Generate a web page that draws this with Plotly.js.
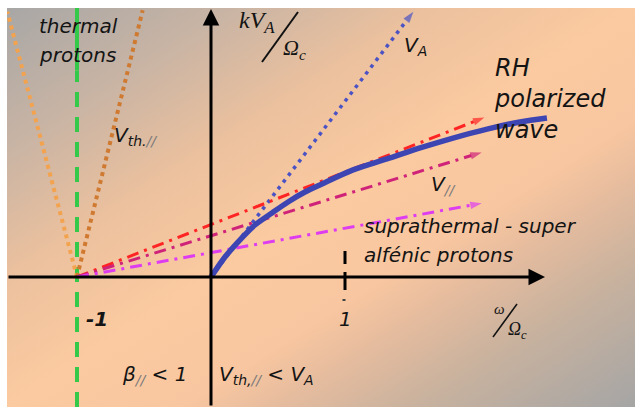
<!DOCTYPE html>
<html>
<head>
<meta charset="utf-8">
<script src="https://cdn.plot.ly/plotly-3.0.1.min.js"></script>
<style>
  html, body { margin:0; padding:0; background:#ffffff; }
  #wrap { position:relative; width:635px; height:407px; overflow:hidden; }
  #bg { position:absolute; left:7px; top:8px; width:628px; height:399px;
        background: linear-gradient(to bottom right, #a8a7a6 0%, #c9b4a4 18%, #ecc19e 34%, #fbcaa0 50%, #f8c6a0 64%, #e4bb9e 72%, #c9b29e 82%, #a5a5a5 100%); }
  #chart { position:absolute; left:0; top:0; width:635px; height:407px; }
</style>
</head>
<body>
<div id="wrap"><div id="bg"></div><div id="chart"></div></div>
<script>
// ---- data (in units of omega/Omega_c and kV_A/Omega_c) ----
const cyclotronX = [-1, -1];
const cyclotronY = [-0.97, 1.54];
const cyclotronTopY = [1.54, 2.01];
const thermalLeftX = [-1, -1.52];
const thermalLeftY = [0, 1.98];
const thermalRightX = [-1, -0.51];
const thermalRightY = [0, 1.99];
const alfvenX = [0, 1.51];
const alfvenY = [0, 1.98];
const beamRedX = [-1, 2.04];
const beamRedY = [0, 1.19];
const beamCrimsonX = [-1, 2.02];
const beamCrimsonY = [0, 0.93];
const beamVioletX = [-1, 2.02];
const beamVioletY = [0, 0.55];
const waveX = [0, 0.104, 0.201, 0.328, 0.455, 0.575, 0.701, 0.828, 1.060, 1.313, 1.560, 1.806, 2.060, 2.306, 2.507];
const waveY = [0, 0.149, 0.261, 0.388, 0.478, 0.560, 0.634, 0.694, 0.799, 0.881, 0.963, 1.037, 1.104, 1.157, 1.187];
const xTickValue = 1;
const xTickLabel = "1";
const xMinusLabel = "-1";

// pixel helpers for layout placement (text/decoration only)
const X = px => (px - 211) / 134;
const Y = py => (277 - py) / 134;

const dashDot = "12px,6px,3px,6px";
function arrowLine(x, y, color, dash, width, headSize) {
  return {x:x, y:y, mode:'lines+markers', type:'scatter', hoverinfo:'skip',
    line:{color:color, width:width, dash:dash},
    marker:{symbol:'arrow', angleref:'previous', size:[0, headSize], color:color, line:{width:0}}};
}

const traces = [
  {x:cyclotronX, y:cyclotronY, mode:'lines', line:{color:'#35c94a', width:4, dash:'15px,10px'}, hoverinfo:'skip'},
  {x:[cyclotronX[0], cyclotronX[1]], y:cyclotronTopY, mode:'lines', line:{color:'#35c94a', width:4}, hoverinfo:'skip'},
  {x:thermalLeftX, y:thermalLeftY, mode:'lines', line:{color:'#f3a24e', width:4, dash:'4px,4px'}, hoverinfo:'skip'},
  {x:thermalRightX, y:thermalRightY, mode:'lines', line:{color:'#cf7a30', width:4, dash:'4px,4px'}, hoverinfo:'skip'},
  arrowLine(alfvenX, alfvenY, '#4a52c4', '3.5px,5px', 3.5, 12),
  arrowLine(beamRedX, beamRedY, '#ff2424', dashDot, 3, 12),
  arrowLine(beamCrimsonX, beamCrimsonY, '#cf2279', dashDot, 3, 12),
  arrowLine(beamVioletX, beamVioletY, '#de3cf0', dashDot, 3, 12),
  {x:waveX, y:waveY, mode:'lines', line:{color:'#3d45b3', width:5.5, shape:'spline', smoothing:0.8}, hoverinfo:'skip'}
];

const sans = 'DejaVu Sans, Arial, sans-serif';
const serif = 'Liberation Serif, Times New Roman, serif';
const ink = '#141414';
const gray = '#7a7a7a';
function txt(text, pxLeft, pyMid, size, opts) {
  opts = opts || {};
  return {
    text:text, x:X(pxLeft), y:Y(pyMid), xref:'x', yref:'y', showarrow:false,
    xanchor:'left', yanchor:'middle', align:'left',
    font:{family:opts.family || sans, size:size, color:ink, style:'italic', weight: opts.weight || 400}
  };
}

const annotations = [
  // axes with arrowheads
  {x:X(545), y:0, ax:X(7), ay:0, xref:'x', yref:'y', axref:'x', ayref:'y', text:'', showarrow:true,
   arrowhead:2, arrowsize:1.1, arrowwidth:3, arrowcolor:'#000', standoff:0},
  {x:0, y:Y(9), ax:0, ay:Y(407), xref:'x', yref:'y', axref:'x', ayref:'y', text:'', showarrow:true,
   arrowhead:2, arrowsize:1.1, arrowwidth:3, arrowcolor:'#000', standoff:0},
  // texts
  txt('thermal', 37, 26, 20),
  txt('protons', 37, 55, 20),
  txt('V<sub>th.<span style="color:' + gray + '">//</span></sub>', 112, 136, 20),
  txt('kV<sub>A</sub>', 237, 22, 24, {family:serif}),
  txt('Ω<sub>c</sub>', 281, 49, 22, {family:serif}),
  txt('V<sub>A</sub>', 402, 46, 20),
  txt('RH<br>polarized<br>wave', 492, 99, 24),
  txt('V<sub><span style="color:' + gray + '">//</span></sub>', 429, 185, 20),
  txt('suprathermal - super', 362, 226, 20),
  txt('alfénic protons', 362, 255, 20),
  txt(xMinusLabel, 84, 319, 20, {weight:700}),
  {text:xTickLabel, x:xTickValue, y:Y(319), xref:'x', yref:'y', showarrow:false, xanchor:'center', yanchor:'middle',
   font:{family:sans, size:20, color:ink, style:'italic'}},
  txt('ω', 492, 309, 15, {family:serif}),
  txt('Ω<sub>c</sub>', 506, 330, 18, {family:serif}),
  txt('β<sub><span style="color:' + gray + '">//</span></sub> &lt; 1', 120, 375, 20),
  txt('V<sub>th,<span style="color:' + gray + '">//</span></sub> &lt; V<sub>A</sub>', 217, 375, 20)
];

const shapes = [
  // fraction slashes
  {type:'line', xref:'x', yref:'y', x0:X(262), y0:Y(62), x1:X(298), y1:Y(12), line:{color:'#111', width:2}},
  {type:'line', xref:'x', yref:'y', x0:X(493), y0:Y(337), x1:X(517), y1:Y(304), line:{color:'#111', width:1.5}},
  // tick at x = 1
  {type:'line', xref:'x', yref:'y', x0:xTickValue, y0:Y(251), x1:xTickValue, y1:Y(264), line:{color:'#000', width:3}},
  {type:'line', xref:'x', yref:'y', x0:xTickValue, y0:Y(272), x1:xTickValue, y1:Y(290), line:{color:'#000', width:3}},
  {type:'line', xref:'x', yref:'y', x0:X(342.5), y0:Y(300), x1:X(345.5), y1:Y(300), line:{color:'#444', width:2}}
];

const layout = {
  width:635, height:407,
  margin:{l:7, r:0, t:8, b:0, pad:0},
  paper_bgcolor:'rgba(0,0,0,0)', plot_bgcolor:'rgba(0,0,0,0)',
  showlegend:false,
  xaxis:{range:[X(7), X(635)], visible:false, fixedrange:true},
  yaxis:{range:[Y(407), Y(8)], visible:false, fixedrange:true},
  annotations:annotations, shapes:shapes
};

Plotly.newPlot('chart', traces, layout, {displayModeBar:false});
</script>
</body>
</html>
